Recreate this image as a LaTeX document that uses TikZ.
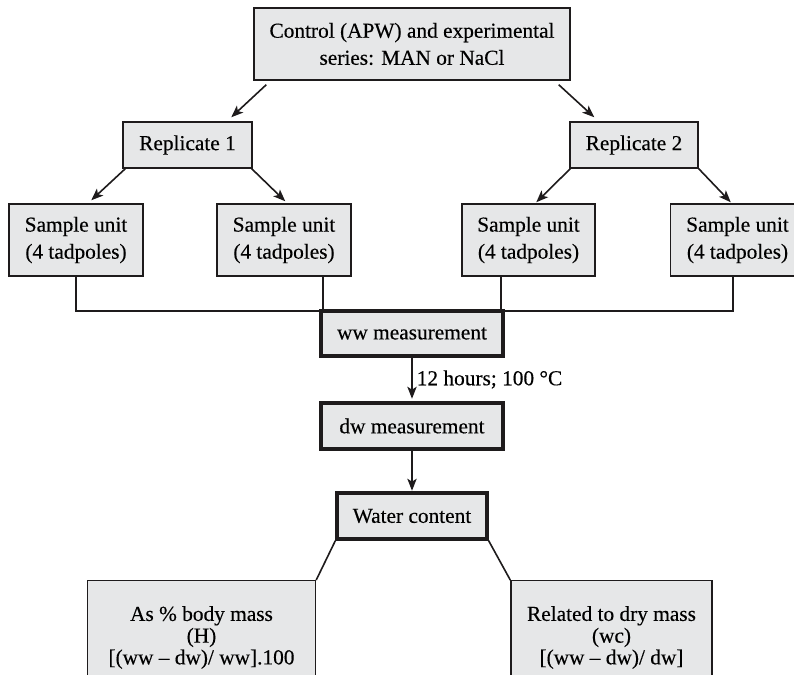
\documentclass[tikz,border=0pt]{standalone}
\usepackage{fontspec}
\setmainfont{Liberation Serif}[UprightFeatures={FakeBold=0.3}]
\usetikzlibrary{arrows.meta}
\definecolor{boxfill}{RGB}{230,231,232}
\definecolor{ink}{RGB}{30,27,28}
\begin{document}
\begin{tikzpicture}[x=0.75pt,y=-0.75pt,
  box/.style={draw=ink, fill=boxfill, line width=1.1pt, inner sep=0pt, align=center,
    font=\fontsize{16}{20.3}\selectfont, text=black},
  thickbox/.style={box, line width=2.4pt},
  lowbox/.style={box, anchor=north, inner xsep=0pt, inner ysep=19pt,
    font=\fontsize{16}{16.3}\selectfont},
  conn/.style={draw=ink, line width=1.2pt},
  arr/.style={conn, -{Stealth[length=9pt,width=7pt,inset=2.2pt]}}
]
\useasboundingbox (0,0) rectangle (794,675);
\clip (0,0) rectangle (794,675);
\fill[white] (0,0) rectangle (794,675);

\node[box, minimum width=316*0.75pt, minimum height=72*0.75pt] (top) at (412,44)
  {Control (APW) and experimental\\series: MAN or NaCl};
\node[box, minimum width=129*0.75pt, minimum height=46*0.75pt] (rep1) at (187.5,145) {Replicate 1};
\node[box, minimum width=128*0.75pt, minimum height=46*0.75pt] (rep2) at (634,145) {Replicate 2};
\node[box, minimum width=134*0.75pt, minimum height=72*0.75pt] (su1) at (76,240) {Sample unit\\(4 tadpoles)};
\node[box, minimum width=134*0.75pt, minimum height=72*0.75pt] (su2) at (284,240) {Sample unit\\(4 tadpoles)};
\node[box, minimum width=133*0.75pt, minimum height=72*0.75pt] (su3) at (528.5,240) {Sample unit\\(4 tadpoles)};
\node[box, minimum width=134*0.75pt, minimum height=72*0.75pt] (su4) at (737.5,240) {Sample unit\\(4 tadpoles)};

\path (412,333.5) coordinate (wwc);
\coordinate (j1) at (su1.south);
\coordinate (j4) at ([shift={(-4.5,0)}]su4.south);
\coordinate (jy) at ([shift={(0,-22.5)}]wwc);
\draw[conn] (j1) |- (j4 |- jy) -- (j4);

\node[thickbox, minimum width=182*0.75pt, minimum height=45*0.75pt] (ww) at (wwc) {ww measurement};
\coordinate (j2) at ([shift={(3.5,0)}]ww.north west);
\coordinate (j3) at ([shift={(-3.5,0)}]ww.north east);
\draw[conn] (j2) -- (j2 |- su2.south);
\draw[conn] (j3) -- (j3 |- su3.south);

\node[thickbox, minimum width=182*0.75pt, minimum height=46*0.75pt] (dw) at (412,426) {dw measurement};
\node[thickbox, minimum width=150*0.75pt, minimum height=46*0.75pt] (wc) at (412,516) {Water content};

\node[lowbox, minimum width=228*0.75pt] (h) at (201.5,580)
  {As \% body mass\\(H)\\{[}(ww \textendash\ dw)/ ww].100};
\node[lowbox, minimum width=201*0.75pt] (wcd) at (611.5,580)
  {Related to dry mass\\(wc)\\{[}(ww \textendash\ dw)/ dw]};

\draw[arr] ([shift={(13,4)}]top.south west) -- ([shift={(109,-4)}]rep1.north west);
\draw[arr] ([shift={(-12,4)}]top.south east) -- ([shift={(25,-4)}]rep2.north west);
\draw[arr] ([shift={(3,0)}]rep1.south west) -- ([shift={(83,-3)}]su1.north west);
\draw[arr] ([shift={(-1,0)}]rep1.south east) -- ([shift={(69,-2)}]su2.north west);
\draw[arr] ([shift={(1,0)}]rep2.south west) -- ([shift={(75,-1)}]su3.north west);
\draw[arr] (rep2.south east) -- ([shift={(61,-1)}]su4.north west);

\draw[arr, shorten >=2pt] (ww.south) -- node[right, inner xsep=3pt, text=black, font=\fontsize{16}{20}\selectfont] {12 hours; 100 °C} (dw.north);
\draw[arr, shorten >=0.5pt] (dw.south) -- (wc.north);

\draw[conn] (wc.south west) -- (h.north east);
\draw[conn] (wc.south east) -- (wcd.north west);
\end{tikzpicture}
\end{document}
